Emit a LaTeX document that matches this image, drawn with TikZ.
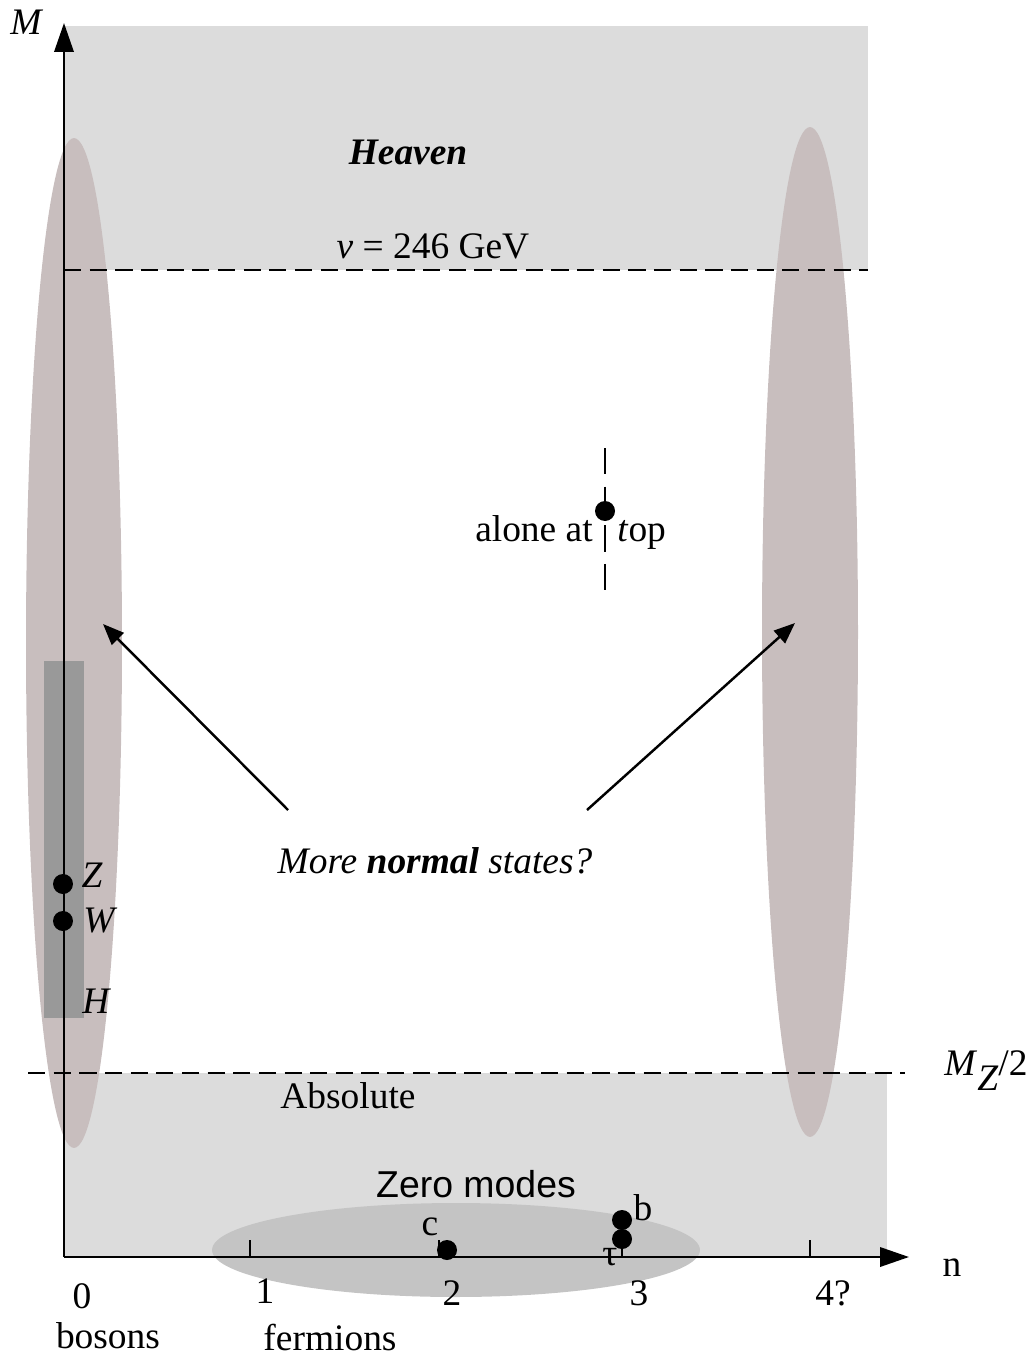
\documentclass[tikz,border=0pt]{standalone}
\usepackage{fontspec}
\setmainfont{Liberation Serif}
\newfontfamily\sansf{Liberation Sans}
\usetikzlibrary{arrows.meta}
\definecolor{lightg}{HTML}{DCDCDC}
\definecolor{rosyg}{HTML}{C8BEBE}
\definecolor{darkg}{HTML}{999999}
\definecolor{zerog}{HTML}{C4C4C4}
\newcommand{\fsz}{\fontsize{21.3}{25}\selectfont}
\tikzset{
  lbl/.style={font=\fsz, inner sep=0pt},
  ilbl/.style={font=\fsz\itshape, inner sep=0pt},
  dot/.style={circle, fill=black, inner sep=0pt, minimum size=0.4cm},
  dashline/.style={line width=1.6pt, dash pattern=on 9.8pt off 4.8pt},
  axis/.style={line width=1.4pt, -{Triangle[length=16.5pt,width=11pt]}},
  pointer/.style={line width=1.4pt, -{Triangle[length=12pt,width=9.5pt]}},
  tick/.style={line width=1.2pt}
}
\begin{document}
\begin{tikzpicture}[x=0.02cm,y=-0.02cm]
\useasboundingbox (0,0) rectangle (1026,1358);
% backgrounds
\fill[lightg] (64,26) rectangle (868,270);
\fill[lightg] (64,1073) rectangle (887,1257);
\fill[rosyg] (74,643) ellipse [x radius=0.96cm, y radius=10.1cm];
\fill[rosyg] (810,632) ellipse [x radius=0.96cm, y radius=10.1cm];
\fill[darkg] (44,661) rectangle (84,1018);
\fill[zerog] (456,1250) ellipse [x radius=4.88cm, y radius=0.94cm];
% dashed lines
\coordinate (vL) at (64,270);
\coordinate (vR) at (868,270);
\coordinate (mzL) at (28,1073);
\coordinate (mzR) at (905,1073);
\draw[dashline] (vL) -- (vR);
\draw[dashline] (mzL) -- (mzR);
% axes
\coordinate (O) at (64,1257);
\coordinate (Mtop) at (64,23);
\coordinate (nend) at (909,1257);
\draw[axis] (O) -- (Mtop);
\draw[axis] (O) -- (nend);
% ticks
\foreach \x/\n in {250/t1,439/t2,622/t3,810/t4}{
  \coordinate (\n) at (\x,1240);
  \draw[tick] (\n) -- (\x,1257);
}
% axis labels
\node[ilbl] (Mlab) at (26,22) {M};
\node[lbl] (nlab) at (952,1268) {n};
\node[lbl] (l0) at (82,1296) {0};
\node[lbl] (l1) at (265,1291) {1};
\node[lbl] (l2) at (452,1293) {2};
\node[lbl] (l3) at (639,1293) {3};
\node[lbl] (l4) at (833,1293) {4?};
\node[lbl] (bos) at (108,1336) {bosons};
\node[lbl] (ferm) at (330,1337) {fermions};
% region labels
\node[lbl, font=\fsz\bfseries\itshape] (heaven) at (408,152) {Heaven};
\node[lbl] (vev) at (433,246) {\textit{v} = 246 GeV};
\node[lbl, anchor=west] (mz) at (944,1071) {\textit{M}\raisebox{-0.4em}{\textit{Z}}/2};
\node[lbl] (abs) at (348,1096) {Absolute};
\node[lbl, font=\fontsize{21.3}{25}\sansf] (zero) at (476,1184) {Zero modes};
% fermion points
\draw[tick] (t3) -- (622,1230);
\node[dot] (c) at (447,1250) {};
\node[lbl] (clab) at (430,1227) {c};
\node[dot] (b) at (622,1220) {};
\node[dot] (tau) at (622,1239) {};
\node[lbl] (blab) at (643,1208) {b};
\node[lbl] (taulab) at (610,1257) {τ};
% top
\coordinate (tA) at (605,448);
\coordinate (tB) at (605,590);
\draw[dashline, dash pattern=on 15pt off 7pt] (tA) -- (tB);
\node[dot] (top) at (605,511) {};
\node[lbl, anchor=base east] (alone) at (593,541) {alone at};
\node[lbl, anchor=base west] (toplab) at (617,541) {\textit{t}op};
% bosons
\node[dot] (Z) at (63,884) {};
\node[dot] (W) at (63,921) {};
\node[ilbl] (Zl) at (92,875) {Z};
\node[ilbl] (Wl) at (99,921) {W};
\node[ilbl] (Hl) at (96,1001) {H};
% more normal states
\node[ilbl] (more) at (435,861) {More \textbf{normal} states?};
\coordinate (a1s) at (288,810);
\coordinate (a1e) at (103,624);
\coordinate (a2s) at (587,810);
\coordinate (a2e) at (795,623);
\draw[pointer] (a1s) -- (a1e);
\draw[pointer] (a2s) -- (a2e);
\end{tikzpicture}
\end{document}
